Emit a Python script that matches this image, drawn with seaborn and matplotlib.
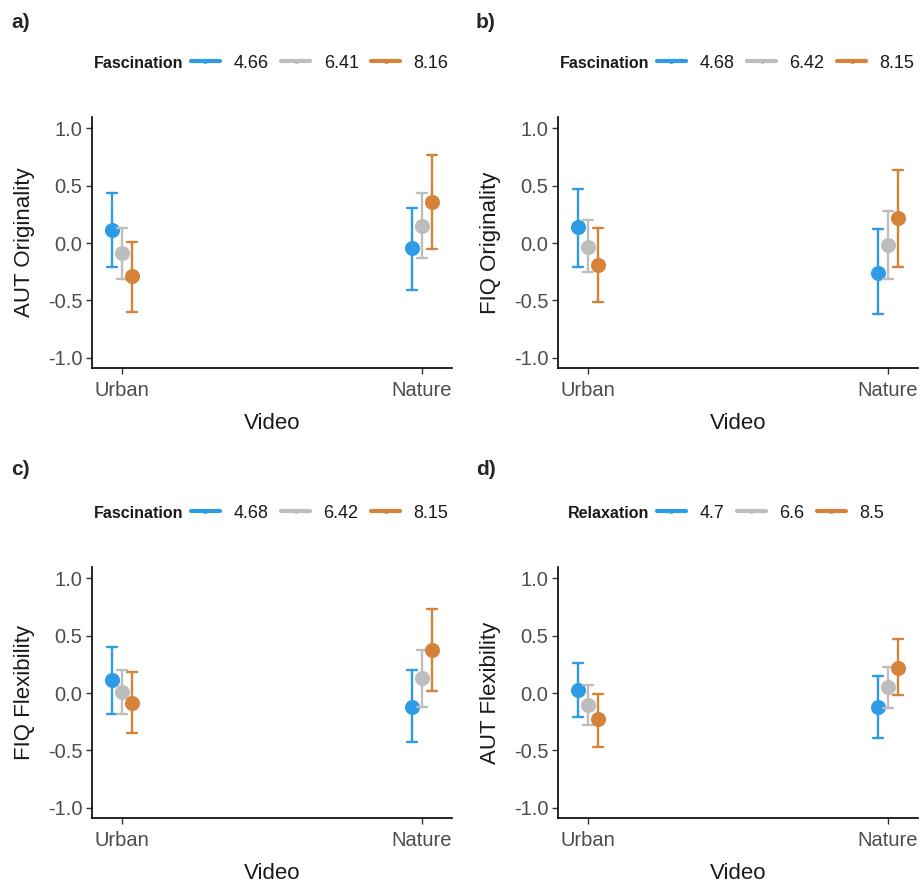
import numpy as np
import pandas as pd
import seaborn as sns
from matplotlib import pyplot as plt
from matplotlib.lines import Line2D

videos = ["Urban", "Nature"]
colors = ["#2E9BE6", "#BDBDBD", "#D5833A"]

# a) AUT Originality by Fascination
a_levels = ["4.66", "6.41", "8.16"]
a_est = [[0.11, -0.09, -0.29], [-0.04, 0.15, 0.36]]
a_lo = [[-0.21, -0.31, -0.60], [-0.41, -0.13, -0.05]]
a_hi = [[0.44, 0.13, 0.01], [0.31, 0.44, 0.77]]

# b) FIQ Originality by Fascination
b_levels = ["4.68", "6.42", "8.15"]
b_est = [[0.14, -0.03, -0.19], [-0.26, -0.02, 0.22]]
b_lo = [[-0.21, -0.25, -0.51], [-0.62, -0.31, -0.21]]
b_hi = [[0.47, 0.20, 0.13], [0.12, 0.28, 0.64]]

# c) FIQ Flexibility by Fascination
c_levels = ["4.68", "6.42", "8.15"]
c_est = [[0.11, 0.01, -0.09], [-0.12, 0.13, 0.38]]
c_lo = [[-0.18, -0.18, -0.35], [-0.43, -0.12, 0.02]]
c_hi = [[0.40, 0.20, 0.18], [0.20, 0.38, 0.73]]

# d) AUT Flexibility by Relaxation
d_levels = ["4.7", "6.6", "8.5"]
d_est = [[0.03, -0.10, -0.23], [-0.12, 0.05, 0.22]]
d_lo = [[-0.21, -0.28, -0.47], [-0.39, -0.13, -0.02]]
d_hi = [[0.26, 0.07, -0.01], [0.15, 0.23, 0.47]]

panels = [
    ("a)", "AUT Originality", "Fascination", a_levels, a_est, a_lo, a_hi),
    ("b)", "FIQ Originality", "Fascination", b_levels, b_est, b_lo, b_hi),
    ("c)", "FIQ Flexibility", "Fascination", c_levels, c_est, c_lo, c_hi),
    ("d)", "AUT Flexibility", "Relaxation", d_levels, d_est, d_lo, d_hi),
]


def to_long(levels, est, lo, hi):
    # three rows per group (lo, estimate, hi): median -> point, full range -> error bar
    rows = []
    for i, v in enumerate(videos):
        for j, lev in enumerate(levels):
            for val in (lo[i][j], est[i][j], hi[i][j]):
                rows.append({"Video": v, "level": lev, "value": val})
    return pd.DataFrame(rows)


sns.set_theme(style="ticks")
plt.rcParams['font.family'] = ['Liberation Sans', 'DejaVu Sans']

fig = plt.figure(figsize=(9.21, 8.83), dpi=100)

W, H = 921, 883
ax_boxes = [(92, 117), (558, 117), (92, 567), (558, 567)]
ax_w, ax_h = 360, 251
tag_pos = [(11, 22), (476, 22), (11, 470), (476, 470)]

for k, (tag, ylab, legtitle, levels, est, lo, hi) in enumerate(panels):
    x0, y0 = ax_boxes[k]
    ax = fig.add_axes([x0 / W, 1 - (y0 + ax_h) / H, ax_w / W, ax_h / H])
    df = to_long(levels, est, lo, hi)
    sns.pointplot(data=df, x="Video", y="value", hue="level",
                  order=videos, hue_order=levels, palette=colors,
                  estimator="median", errorbar=("pi", 100),
                  dodge=0.066, linestyle="none", markers="o",
                  markersize=8.8, capsize=0.034,
                  err_kws={"linewidth": 1.7}, legend=False, ax=ax)

    ax.set_xlim(-0.1, 1.1)
    ax.set_ylim(-1.09, 1.1)
    ax.set_yticks([-1.0, -0.5, 0.0, 0.5, 1.0])
    ax.set_yticklabels(["-1.0", "-0.5", "0.0", "0.5", "1.0"])
    sns.despine(ax=ax)
    for s in ("left", "bottom"):
        ax.spines[s].set_linewidth(1.2)
        ax.spines[s].set_color("black")
    ax.tick_params(axis="both", labelsize=14.5, labelcolor="#4D4D4D",
                   length=4.5, width=1.0, color="#333333")
    ax.tick_params(axis="x", pad=5)
    ax.tick_params(axis="y", pad=2.5)
    ax.set_xlabel("Video", fontsize=16, color="#1A1A1A", labelpad=9)
    ax.set_ylabel(ylab, fontsize=16, color="#1A1A1A", labelpad=9)

    handles = [Line2D([0], [0], color=c, lw=3, marker="o", markersize=2.5)
               for c in colors]
    ax.legend(handles, levels, ncol=3, loc="center left",
              bbox_to_anchor=(0.275, 1.215), frameon=False, fontsize=13,
              handlelength=1.6, handletextpad=0.75, columnspacing=0.7,
              borderaxespad=0, borderpad=0, labelcolor="#1A1A1A")
    ax.text(0.253, 1.215, legtitle, transform=ax.transAxes, ha="right",
            va="center", fontsize=11.5, fontweight="bold", color="#1A1A1A")

    tx, ty = tag_pos[k]
    fig.text(tx / W, 1 - ty / H, tag, fontsize=15, fontweight="bold",
             va="center", ha="left")

fig.savefig("out.png", dpi=100)
